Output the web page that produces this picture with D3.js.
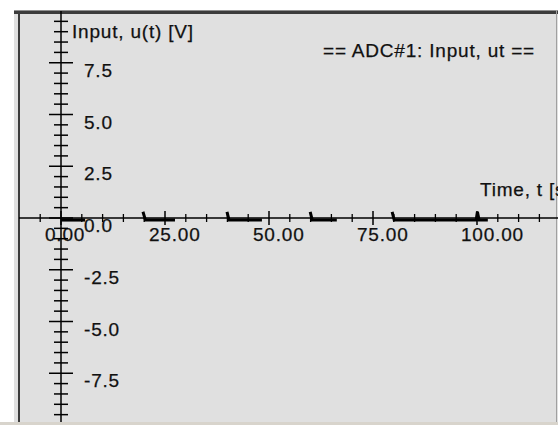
<!DOCTYPE html>
<html>
<head>
<meta charset="utf-8">
<script src="https://cdn.jsdelivr.net/npm/d3@7"></script>
<style>
  html, body { margin: 0; padding: 0; background: #fff; }
  svg { display: block; }
  text { font-family: "Liberation Sans", Arial, sans-serif; font-size: 19px; letter-spacing: 0.8px; fill: #111; stroke: #111; stroke-width: 0.25px; }
</style>
</head>
<body>
<div id="chart"></div>
<script>
// ADC#1 input signal, short bursts sitting just under zero volts
var burstTimes = [
  [0, 5.8],
  [19.7, 20.3, 27.4],
  [39.9, 40.4, 48.3],
  [59.9, 60.4, 66.3],
  [79.6, 80.1, 99.8, 100.1, 100.5, 102.6]
]
var burstVolts = [
  [-0.1, -0.1],
  [0.3, -0.1, -0.1],
  [0.3, -0.1, -0.1],
  [0.3, -0.1, -0.1],
  [0.3, -0.1, -0.1, 0.3, -0.1, -0.1]
]

var xMajor = [0, 25, 50, 75, 100]
var xMajorLabels = ['0.00', '25.00', '50.00', '75.00', '100.00']
var yMajor = [7.5, 5, 2.5, 0, -2.5, -5, -7.5]
var yMajorLabels = ['7.5', '5.0', '2.5', '0.0', '-2.5', '-5.0', '-7.5']

var title = '== ADC#1: Input, ut =='
var yTitle = 'Input, u(t) [V]'
var xTitle = 'Time, t [s]'

var W = 558, H = 425

var svg = d3.select('#chart')
  .append('svg')
  .attr('width', W)
  .attr('height', H)

// panel
svg.append('rect').attr('x', 14).attr('y', 10).attr('width', 544).attr('height', 412).attr('fill', '#e0e0e0')
svg.append('rect').attr('x', 0).attr('y', 422).attr('width', W).attr('height', 3).attr('fill', '#d8d4cc')
svg.append('rect').attr('x', 14).attr('y', 10).attr('width', 544).attr('height', 1).attr('fill', '#909090')
svg.append('rect').attr('x', 14).attr('y', 11).attr('width', 544).attr('height', 3).attr('fill', '#3c3c3c')
svg.append('rect').attr('x', 18).attr('y', 11).attr('width', 2).attr('height', 411).attr('fill', '#3c3c3c')
svg.append('rect').attr('x', 556).attr('y', 10).attr('width', 1).attr('height', 412).attr('fill', '#a0a0a0')

var x = d3.scaleLinear().domain([0, 100]).range([61, 477])
var y = d3.scaleLinear().domain([-10, 10]).range([425, 11])

var x0 = x(0), y0 = y(0)

// tick labels first, the axes run over them (0.0 gets cut by the x axis)
svg.selectAll('.ylab').data(yMajor).enter().append('text')
  .attr('x', 84)
  .attr('y', d => y(d) + 14)
  .text((d, i) => yMajorLabels[i])

svg.selectAll('.xlab').data(xMajor).enter().append('text')
  .attr('x', d => x(d) - 16)
  .attr('y', y0 + 23)
  .text((d, i) => xMajorLabels[i])

// x axis line + ticks
svg.append('line')
  .attr('x1', 19).attr('x2', W).attr('y1', y0).attr('y2', y0)
  .attr('stroke', '#000').attr('stroke-width', 1.5)

var xMinor = d3.range(-5, 120, 5).filter(d => xMajor.indexOf(d) < 0)
svg.selectAll('.xminor').data(xMinor).enter().append('line')
  .attr('x1', d => x(d)).attr('x2', d => x(d))
  .attr('y1', y0 - 4).attr('y2', y0 + 4)
  .attr('stroke', '#000').attr('stroke-width', 1.3)
svg.selectAll('.xmajor').data(xMajor).enter().append('line')
  .attr('x1', d => x(d)).attr('x2', d => x(d))
  .attr('y1', y0 - 7).attr('y2', y0 + 7)
  .attr('stroke', '#000').attr('stroke-width', 1.5)

// y axis line + ticks
svg.append('line')
  .attr('x1', x0).attr('x2', x0).attr('y1', 11).attr('y2', 422)
  .attr('stroke', '#000').attr('stroke-width', 1.5)

var yMinor = d3.range(-20, 21).map(d => d / 2).filter(d => yMajor.indexOf(d) < 0 && Math.abs(d) < 10)
svg.selectAll('.yminor').data(yMinor).enter().append('line')
  .attr('x1', x0 - 7).attr('x2', x0 + 7)
  .attr('y1', d => y(d)).attr('y2', d => y(d))
  .attr('stroke', '#000').attr('stroke-width', 1.5)
svg.selectAll('.ymajor').data(yMajor).enter().append('line')
  .attr('x1', x0 - 12).attr('x2', x0 + 12)
  .attr('y1', d => y(d)).attr('y2', d => y(d))
  .attr('stroke', '#000').attr('stroke-width', 1.5)

// signal bursts
var line = d3.line()
  .x(d => x(d[0]))
  .y(d => y(d[1]))

svg.selectAll('.burst').data(burstTimes.map((ts, i) => ts.map((t, j) => [t, burstVolts[i][j]])))
  .enter().append('path')
  .attr('d', line)
  .attr('fill', 'none')
  .attr('stroke', '#000')
  .attr('stroke-width', 3)

// titles
svg.append('text').attr('x', 72).attr('y', 38).text(yTitle)
svg.append('text').attr('x', 323).attr('y', 57).text(title)
svg.append('text').attr('x', 480).attr('y', 196).text(xTitle)
</script>
</body>
</html>
